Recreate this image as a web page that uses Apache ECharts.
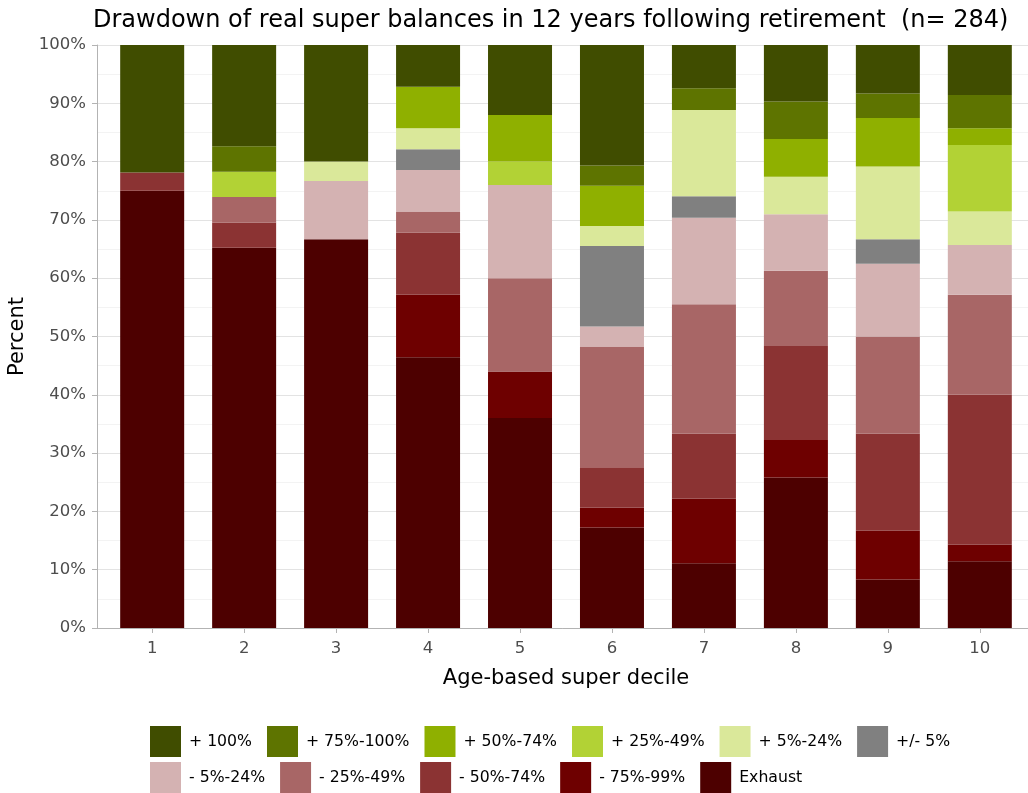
<!DOCTYPE html>
<html>
<head>
<meta charset="utf-8">
<script src="https://cdn.jsdelivr.net/npm/echarts@6/dist/echarts.min.js"></script>
<style>
  html, body { margin: 0; padding: 0; background: #fff; }
  #main { width: 1028px; height: 793px; }
</style>
</head>
<body>
<div id="main"></div>
<script>
// deciles on the x axis
var deciles = [1, 2, 3, 4, 5, 6, 7, 8, 9, 10];

// share of people in each outcome band, per decile (%), bottom of stack first
var exhaust   = [75.00, 65.22, 66.67, 46.43, 36.00, 17.24, 11.11, 25.81, 8.33, 11.43];
var m75to99   = [0, 0, 0, 10.71, 8.00, 3.45, 11.11, 6.45, 8.33, 2.86];
var m50to74   = [3.13, 4.35, 0, 10.71, 0, 6.90, 11.11, 16.13, 16.67, 25.71];
var m25to49   = [0, 4.35, 0, 3.57, 16.00, 20.69, 22.22, 12.90, 16.67, 17.14];
var m5to24    = [0, 0, 10.00, 7.14, 16.00, 3.45, 14.81, 9.68, 12.50, 8.57];
var flat5     = [0, 0, 0, 3.57, 0, 13.79, 3.70, 0, 4.17, 0];
var p5to24    = [0, 0, 3.33, 3.57, 0, 3.45, 14.81, 6.45, 12.50, 5.71];
var p25to49   = [0, 4.35, 0, 0, 4.00, 0, 0, 0, 0, 11.43];
var p50to74   = [0, 0, 0, 7.14, 8.00, 6.90, 0, 6.45, 8.33, 2.86];
var p75to100  = [0, 4.35, 0, 0, 0, 3.45, 3.70, 6.45, 4.17, 5.71];
var p100      = [21.88, 17.39, 20.00, 7.14, 12.00, 20.69, 7.41, 9.68, 8.33, 8.57];

var bandNames = ['Exhaust', '- 75%-99%', '- 50%-74%', '- 25%-49%', '- 5%-24%', '+/- 5%',
                 '+ 5%-24%', '+ 25%-49%', '+ 50%-74%', '+ 75%-100%', '+ 100%'];
var bandValues = [exhaust, m75to99, m50to74, m25to49, m5to24, flat5,
                  p5to24, p25to49, p50to74, p75to100, p100];
var bandColors = ['#4d0000', '#6e0000', '#8b3333', '#a86666', '#d4b2b2', '#808080',
                  '#dae89a', '#b2d235', '#8fb000', '#5e7400', '#404d00'];

var yTicks = [0, 10, 20, 30, 40, 50, 60, 70, 80, 90, 100];

var myChart = echarts.init(document.getElementById('main'), null, { renderer: 'canvas' });

var font = 'DejaVu Sans';

// value first so that the stack is taken on y, decile second for x
var series = bandNames.map(function (name, i) {
    return {
        name: name,
        type: 'bar',
        stack: 'all',
        barWidth: 64,
        encode: { x: 1, y: 0 },
        itemStyle: { color: bandColors[i] },
        emphasis: { disabled: true },
        data: deciles.map(function (d, j) { return [bandValues[i][j], d]; })
    };
});

var legendText = { fontFamily: font, fontSize: 15.7, color: '#000', padding: [0, 0, 0, 3] };

var option = {
    animation: false,
    textStyle: { fontFamily: font },
    title: {
        text: 'Drawdown of real super balances in 12 years following retirement  (n= 284)',
        left: 88,
        top: 4,
        textStyle: { fontFamily: font, fontSize: 24, fontWeight: 'normal', color: '#000' }
    },
    legend: [
        {
            data: ['+ 100%', '+ 75%-100%', '+ 50%-74%', '+ 25%-49%', '+ 5%-24%', '+/- 5%'],
            left: 150, top: 726, padding: 0,
            itemWidth: 31, itemHeight: 31, itemGap: 15,
            icon: 'rect',
            textStyle: legendText
        },
        {
            data: ['- 5%-24%', '- 25%-49%', '- 50%-74%', '- 75%-99%', 'Exhaust'],
            left: 150, top: 762, padding: 0,
            itemWidth: 31, itemHeight: 31, itemGap: 15,
            icon: 'rect',
            textStyle: legendText
        }
    ],
    grid: { left: 97, right: -7, top: 45, bottom: 165, outerBoundsMode: 'none' },
    xAxis: {
        type: 'value',
        min: 0.4,
        max: 10.6,
        name: 'Age-based super decile',
        nameLocation: 'middle',
        nameGap: 40,
        nameTextStyle: { fontFamily: font, fontSize: 21, color: '#000' },
        axisLine: { show: true, lineStyle: { color: '#b3b3b3', width: 1 } },
        axisTick: { show: true, customValues: deciles, length: 5, lineStyle: { color: '#b3b3b3' } },
        axisLabel: { customValues: deciles, fontSize: 16.5, color: '#4d4d4d', margin: 12 },
        splitLine: { show: false }
    },
    yAxis: {
        type: 'value',
        min: 0,
        max: 100,
        interval: 10,
        name: 'Percent',
        nameLocation: 'middle',
        nameGap: 65,
        nameTextStyle: { fontFamily: font, fontSize: 21, color: '#000' },
        axisLine: { show: true, lineStyle: { color: '#b3b3b3', width: 1 } },
        axisTick: { show: true, length: 5, lineStyle: { color: '#b3b3b3' } },
        axisLabel: {
            fontSize: 16.5, color: '#4d4d4d', margin: 11,
            formatter: function (v) { return yTicks.indexOf(v) >= 0 ? v + '%' : ''; }
        },
        splitLine: { show: true, lineStyle: { color: '#e3e3e3', width: 1 } },
        minorTick: { show: false, splitNumber: 2 },
        minorSplitLine: { show: true, lineStyle: { color: '#f3f3f3', width: 1 } }
    },
    series: series
};

myChart.setOption(option);
</script>
</body>
</html>
